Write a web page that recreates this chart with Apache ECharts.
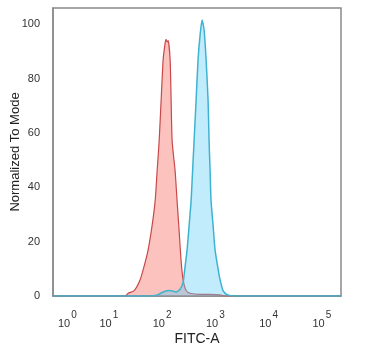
<!DOCTYPE html>
<html>
<head>
<meta charset="utf-8">
<script src="https://cdn.jsdelivr.net/npm/echarts@6/dist/echarts.min.js"></script>
<style>html,body{margin:0;padding:0;background:#fff}#c{width:371px;height:361px}</style>
</head>
<body>
<div id="c"></div>
<script>
// x values are log10(FITC-A) display positions (decades)
var redX = [-0.05, 1.306, 1.362, 1.475, 1.587, 1.662, 1.737, 1.812, 1.869, 1.906, 1.944, 1.981, 2.019, 2.056, 2.075, 2.094, 2.113, 2.150, 2.169, 2.188, 2.244, 2.281, 2.319, 2.356, 2.394, 2.450, 2.525, 2.713, 2.901, 3.088, 3.182, 5.36];
var redY = [0, 0, 1, 2, 6, 11, 17, 26, 35, 46, 57, 72, 87, 93, 94.5, 93.5, 94, 87, 72, 57, 46, 35, 24, 13, 6, 2, 1, 0.6, 0.6, 0.4, 0, 0];
var blueX = [-0.05, 1.775, 1.925, 2.019, 2.150, 2.263, 2.338, 2.394, 2.432, 2.469, 2.507, 2.544, 2.582, 2.600, 2.638, 2.675, 2.713, 2.750, 2.788, 2.826, 2.863, 2.882, 2.901, 2.919, 2.957, 2.994, 3.051, 3.088, 3.144, 3.220, 3.370, 5.36];
var blueY = [0, 0, 0.5, 1.5, 2, 1.5, 2.5, 5, 11, 17, 26, 35, 50, 57, 72, 87, 96, 101.6, 98, 87, 72, 57, 46, 35, 26, 17, 10, 6, 2, 0.5, 0, 0];
var xTickPos = [0.22, 1, 2, 3, 4, 5];
var xTickExp = ['0', '1', '2', '3', '4', '5'];
var yTicks = [0, 20, 40, 60, 80, 100];

function pairs(xs, ys) { return xs.map(function (x, i) { return [x, ys[i]]; }); }

var chart = echarts.init(document.getElementById('c'), null, { renderer: 'canvas' });
chart.setOption({
  animation: false,
  backgroundColor: '#fff',
  grid: { left: 53, right: 30, top: 8, bottom: 65, show: true, borderColor: '#8a8a8a', borderWidth: 1.5, outerBoundsMode: 'none', containLabel: false },
  xAxis: {
    type: 'value', min: -0.05, max: 5.36,
    name: 'FITC-A', nameLocation: 'middle', nameGap: 36, nameMoveOverlap: false,
    nameTextStyle: { fontFamily: 'Liberation Sans', fontSize: 14, color: '#222' },
    axisLine: { show: true, onZero: false, lineStyle: { color: '#8a8a8a', width: 1.5 } },
    axisTick: { show: false },
    splitLine: { show: false },
    axisLabel: {
      customValues: xTickPos,
      margin: 14,
      formatter: function (v) {
        var i = xTickPos.indexOf(v);
        return i < 0 ? '' : '{b|10}{s|' + xTickExp[i] + '}';
      },
      rich: {
        b: { fontFamily: 'Liberation Sans', fontSize: 11, color: '#333', verticalAlign: 'bottom' },
        s: { fontFamily: 'Liberation Sans', fontSize: 10, color: '#333', padding: [0, 0, 9, 1], verticalAlign: 'bottom' }
      }
    }
  },
  yAxis: {
    type: 'value', min: 0, max: 106, interval: 20,
    name: 'Normalized To Mode', nameLocation: 'middle', nameGap: 31, nameMoveOverlap: false,
    nameTextStyle: { fontFamily: 'Liberation Sans', fontSize: 13, color: '#222' },
    axisLine: { show: true, onZero: false, lineStyle: { color: '#8a8a8a', width: 1.5 } },
    axisTick: { show: false },
    splitLine: { show: false },
    axisLabel: {
      margin: 13, fontFamily: 'Liberation Sans', fontSize: 11, color: '#333',
      formatter: function (v) { return yTicks.indexOf(v) >= 0 ? String(v) : ''; }
    }
  },
  series: [
    {
      type: 'line', data: pairs(redX, redY), showSymbol: false, smooth: 0.2,
      lineStyle: { color: '#c9484a', width: 1.2 },
      areaStyle: { color: 'rgba(245,110,100,0.6)' },
      z: 2
    },
    {
      type: 'line', data: pairs(blueX, blueY), showSymbol: false, smooth: 0.2,
      lineStyle: { color: '#3fb2d2', width: 1.5 },
      areaStyle: { color: 'rgba(90,205,245,0.55)' },
      z: 3
    }
  ]
});
</script>
</body>
</html>
